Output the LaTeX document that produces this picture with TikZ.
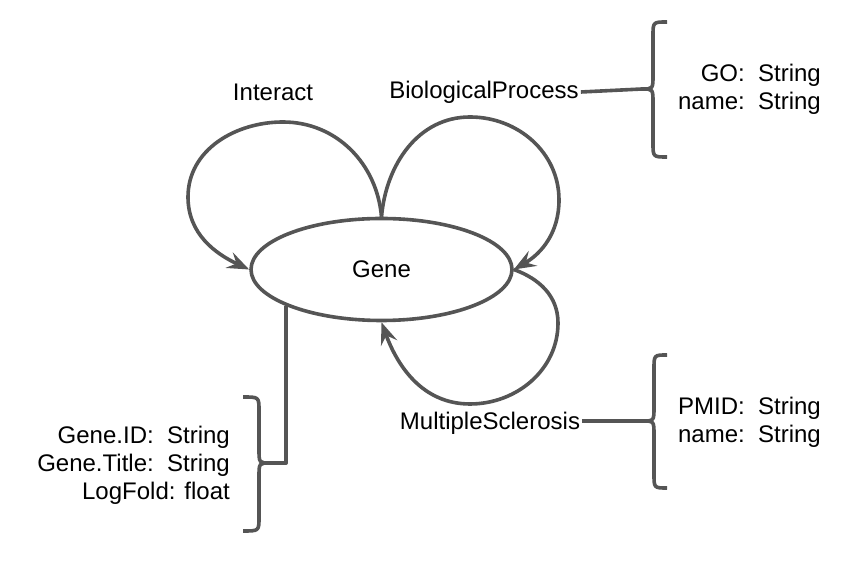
\documentclass[tikz,border=0pt]{standalone}
\usepackage{fontspec}
\setmainfont{Liberation Sans}
\usetikzlibrary{shapes.geometric,arrows.meta}
\definecolor{lc}{HTML}{555555}
\begin{document}
\begin{tikzpicture}[x=1pt,y=1pt,
  txt/.style={font=\fontsize{24}{28}\selectfont, text=black, inner sep=2pt},
  conn/.style={draw=lc, line width=3.6pt, line join=round},
  arr/.style={conn, -{Stealth[length=22pt,width=17pt,inset=8pt]}},
  attrs/.style={txt, align=right, anchor=east}
]
\useasboundingbox (0,0) rectangle (864,561);

% main entity
\node[conn, ellipse, minimum width=261pt, minimum height=102pt, inner sep=0pt, txt] (gene) at (381.5,291.5) {Gene};

% labels
\node[txt] (interact) at (273,469) {Interact};
\node[txt] (bp) at (484,469) {BiologicalProcess};
\node[txt] (ms) at (490,138) {MultipleSclerosis};

% attribute blocks
\node[attrs] (bpattr) at (823,472) {GO:\ \ String\\name:\ \ String};
\node[attrs] (msattr) at (823,138.5) {PMID:\ \ String\\name:\ \ String};
\node[attrs] (geneattr) at (232,96) {Gene.ID:\ \ String\\Gene.Title:\ \ String\\LogFold: float};

% brace tips
\coordinate (bptip) at (642,472);
\coordinate (mstip) at (642,140);
\coordinate (genetip) at (270,98);

% loops
\draw[arr] (gene.north) to[out=95,in=0] (283,439) to[out=180,in=90] (188,364) to[out=-90,in=155] (gene.west);
\draw[arr] (gene.north) to[out=85,in=180] (470,444) to[out=0,in=90] (559,361) to[out=-90,in=30] (gene.east);
\draw[arr] (gene.east) to[out=-20,in=90] (558,238) to[out=-90,in=0] (470,157) to[out=180,in=-70] (gene.south);

% connectors to braces
\draw[conn] (bp.east) -- (bptip);
\draw[conn] (ms.east |- mstip) -- (mstip);
\draw[conn] (gene.201.3) |- (genetip);

% braces
\draw[conn] (667,539) .. controls (653,539) .. (653,525) -- (653,486) .. controls (653,472) .. (bptip) .. controls (653,472) .. (653,458) -- (653,418) .. controls (653,404) .. (667,404);
\draw[conn] (667,206) .. controls (654,206) .. (654,192) -- (654,154) .. controls (654,140) .. (mstip) .. controls (654,140) .. (654,126) -- (654,87) .. controls (654,73) .. (667,73);
\draw[conn] (243,164) .. controls (259,164) .. (259,150) -- (259,112) .. controls (259,98) .. (genetip) .. controls (259,98) .. (259,84) -- (259,44) .. controls (259,30) .. (243,30);
\end{tikzpicture}
\end{document}
